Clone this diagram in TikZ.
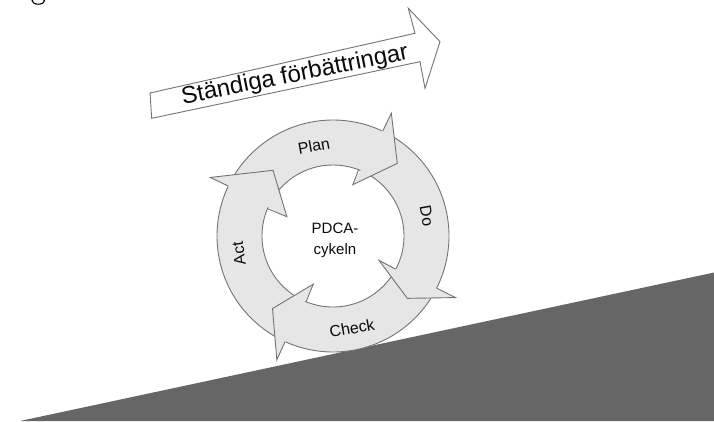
\documentclass[tikz,border=0pt]{standalone}
\usepackage{fontspec}
\setmainfont{Liberation Sans}
\definecolor{ringfill}{RGB}{230,230,230}
\definecolor{edgegray}{RGB}{115,115,115}
\definecolor{slopegray}{RGB}{102,102,102}
\definecolor{inkgray}{RGB}{10,10,10}

% one arrowhead of the cycle: outer barb, tip, inner barb (angle, radius each)
\newcommand\pdcahead[6]{%
  \fill[ringfill] (#1:#2) -- (#3:#4) -- (#5:#6) -- cycle;
  \draw[outline] (#1:116) -- (#1:#2) -- (#3:#4) -- (#5:#6) -- (#5:71);
}

\begin{document}
\begin{tikzpicture}[x=1pt,y=-1pt,
  outline/.style={draw=edgegray, line width=0.9pt, line join=miter},
  label/.style={text=inkgray, font=\fontsize{16}{16}\selectfont, inner sep=0pt}]
\useasboundingbox (0,0) rectangle (714,421);

% dark slope
\fill[slopegray] (20,421) -- (714,272.5) -- (714,421) -- cycle;

% descender loop cut by the top edge
\begin{scope}
  \clip (0,0) rectangle (714,421);
  \draw[black, line width=1.1pt] (38.3,0.8) ellipse [x radius=6.2, y radius=3.4];
\end{scope}

% "continuous improvement" arrow
\draw[outline, fill=white] (150,93) -- (415,33.3) -- (408.3,8.3) -- (440,41.7)
  -- (425,88.3) -- (420,61.7) -- (151.7,118.3) -- cycle;
\node[rotate=11.3, text=inkgray, font=\fontsize{24}{24}\selectfont, inner sep=0pt]
  (improve) at (295,75.5) {Ständiga förbättringar};

% PDCA cycle
\begin{scope}[shift={(333,236)}, y=1pt]
  \path[fill=ringfill, outline, even odd rule]
    (0,0) circle[radius=116] (0,0) circle[radius=71];
  \pdcahead{64.6}{136}{48.5}{97}{68.9}{55}
  \pdcahead{-26.7}{137}{-40}{97}{-27.9}{52}
  \pdcahead{245.6}{136}{230.2}{94.5}{247.7}{52}
  \pdcahead{154.5}{136}{132.4}{89}{157.3}{50}

  \node[label, rotate=10]  (plan)  at (-19,90)   {Plan};
  \node[label, rotate=-80] (do)    at (93.7,20)  {Do};
  \node[label, rotate=10]  (check) at (19,-92)   {Check};
  \node[label, rotate=98]  (act)   at (-94,-17.5) {Act};
  \node[text=inkgray, align=center, font=\fontsize{15}{21}\selectfont, inner sep=0pt]
    (core) at (2,-4) {PDCA-\\cykeln};
\end{scope}
\end{tikzpicture}
\end{document}
